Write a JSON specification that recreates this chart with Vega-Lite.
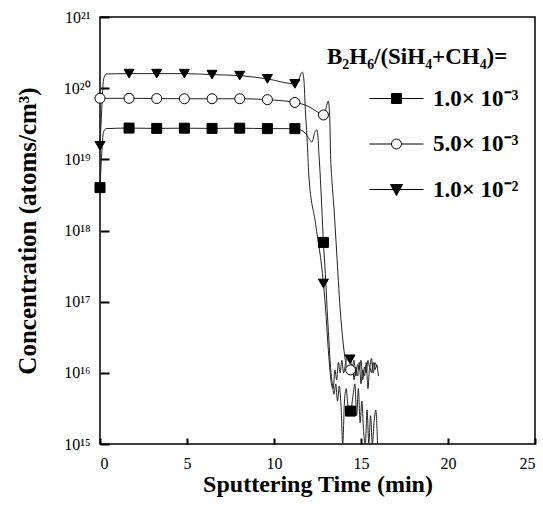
{
  "$schema": "https://vega.github.io/schema/vega-lite/v6.json",
  "width": 435,
  "height": 427,
  "autosize": {"type": "none"},
  "padding": {"left": 100, "top": 17, "right": 8, "bottom": 62},
  "background": "white",
  "config": {
    "view": {"stroke": "black", "strokeWidth": 1.5},
    "font": "Liberation Serif"
  },
  "data": {"values": [
    {"s":"1.0× 10⁻³","t":0,"c":4e18,"m":1},
    {"s":"1.0× 10⁻³","t":0.1,"c":1.2e19,"m":0},
    {"s":"1.0× 10⁻³","t":0.2,"c":2.4e19,"m":0},
    {"s":"1.0× 10⁻³","t":0.35,"c":2.7e19,"m":0},
    {"s":"1.0× 10⁻³","t":1.67,"c":2.75e19,"m":1},
    {"s":"1.0× 10⁻³","t":3.26,"c":2.72e19,"m":1},
    {"s":"1.0× 10⁻³","t":4.85,"c":2.74e19,"m":1},
    {"s":"1.0× 10⁻³","t":6.44,"c":2.72e19,"m":1},
    {"s":"1.0× 10⁻³","t":8.03,"c":2.74e19,"m":1},
    {"s":"1.0× 10⁻³","t":9.62,"c":2.7e19,"m":1},
    {"s":"1.0× 10⁻³","t":11.2,"c":2.7e19,"m":1},
    {"s":"1.0× 10⁻³","t":11.75,"c":2.4e19,"m":0},
    {"s":"1.0× 10⁻³","t":12.05,"c":1.9e19,"m":0},
    {"s":"1.0× 10⁻³","t":12.17,"c":1.75e19,"m":0},
    {"s":"1.0× 10⁻³","t":12.35,"c":2.4e19,"m":0},
    {"s":"1.0× 10⁻³","t":12.45,"c":2.6e19,"m":0},
    {"s":"1.0× 10⁻³","t":12.52,"c":2.2e19,"m":0},
    {"s":"1.0× 10⁻³","t":12.58,"c":1.2e19,"m":0},
    {"s":"1.0× 10⁻³","t":12.64,"c":7e18,"m":0},
    {"s":"1.0× 10⁻³","t":12.75,"c":2e18,"m":0},
    {"s":"1.0× 10⁻³","t":12.84,"c":6.8e17,"m":1},
    {"s":"1.0× 10⁻³","t":12.95,"c":2.5e17,"m":0},
    {"s":"1.0× 10⁻³","t":13.05,"c":8e16,"m":0},
    {"s":"1.0× 10⁻³","t":13.15,"c":3e16,"m":0},
    {"s":"1.0× 10⁻³","t":13.25,"c":1.2e16,"m":0},
    {"s":"1.0× 10⁻³","t":13.35,"c":7e15,"m":0},
    {"s":"1.0× 10⁻³","t":13.45,"c":5e15,"m":0},
    {"s":"1.0× 10⁻³","t":13.55,"c":7e15,"m":0},
    {"s":"1.0× 10⁻³","t":13.65,"c":4e15,"m":0},
    {"s":"1.0× 10⁻³","t":13.75,"c":6.5e15,"m":0},
    {"s":"1.0× 10⁻³","t":13.85,"c":3.5e15,"m":0},
    {"s":"1.0× 10⁻³","t":13.95,"c":5e14,"m":0},
    {"s":"1.0× 10⁻³","t":14.05,"c":4e15,"m":0},
    {"s":"1.0× 10⁻³","t":14.15,"c":6e15,"m":0},
    {"s":"1.0× 10⁻³","t":14.25,"c":3.5e15,"m":0},
    {"s":"1.0× 10⁻³","t":14.4,"c":2.9e15,"m":1},
    {"s":"1.0× 10⁻³","t":14.55,"c":5e15,"m":0},
    {"s":"1.0× 10⁻³","t":14.65,"c":7e15,"m":0},
    {"s":"1.0× 10⁻³","t":14.75,"c":2.5e15,"m":0},
    {"s":"1.0× 10⁻³","t":14.85,"c":6e15,"m":0},
    {"s":"1.0× 10⁻³","t":14.95,"c":2e15,"m":0},
    {"s":"1.0× 10⁻³","t":15.05,"c":4e15,"m":0},
    {"s":"1.0× 10⁻³","t":15.15,"c":1.5e15,"m":0},
    {"s":"1.0× 10⁻³","t":15.25,"c":5e14,"m":0},
    {"s":"1.0× 10⁻³","t":15.35,"c":3e15,"m":0},
    {"s":"1.0× 10⁻³","t":15.45,"c":6e14,"m":0},
    {"s":"1.0× 10⁻³","t":15.55,"c":2.5e15,"m":0},
    {"s":"1.0× 10⁻³","t":15.65,"c":5e14,"m":0},
    {"s":"1.0× 10⁻³","t":15.75,"c":2e15,"m":0},
    {"s":"1.0× 10⁻³","t":15.85,"c":3e15,"m":0},
    {"s":"1.0× 10⁻³","t":15.95,"c":7e14,"m":0},

    {"s":"5.0× 10⁻³","t":0,"c":7.2e19,"m":1},
    {"s":"5.0× 10⁻³","t":1.67,"c":7.2e19,"m":1},
    {"s":"5.0× 10⁻³","t":3.26,"c":7.15e19,"m":1},
    {"s":"5.0× 10⁻³","t":4.85,"c":7.1e19,"m":1},
    {"s":"5.0× 10⁻³","t":6.44,"c":7.1e19,"m":1},
    {"s":"5.0× 10⁻³","t":8.03,"c":7.1e19,"m":1},
    {"s":"5.0× 10⁻³","t":9.62,"c":6.9e19,"m":1},
    {"s":"5.0× 10⁻³","t":11.2,"c":6.3e19,"m":1},
    {"s":"5.0× 10⁻³","t":11.6,"c":6e19,"m":0},
    {"s":"5.0× 10⁻³","t":12.0,"c":5.5e19,"m":0},
    {"s":"5.0× 10⁻³","t":12.4,"c":4.8e19,"m":0},
    {"s":"5.0× 10⁻³","t":12.7,"c":4.3e19,"m":0},
    {"s":"5.0× 10⁻³","t":12.84,"c":4.2e19,"m":1},
    {"s":"5.0× 10⁻³","t":12.95,"c":4.8e19,"m":0},
    {"s":"5.0× 10⁻³","t":13.05,"c":6e19,"m":0},
    {"s":"5.0× 10⁻³","t":13.12,"c":6.6e19,"m":0},
    {"s":"5.0× 10⁻³","t":13.2,"c":4e19,"m":0},
    {"s":"5.0× 10⁻³","t":13.26,"c":1e19,"m":0},
    {"s":"5.0× 10⁻³","t":13.33,"c":5e18,"m":0},
    {"s":"5.0× 10⁻³","t":13.45,"c":2e18,"m":0},
    {"s":"5.0× 10⁻³","t":13.6,"c":5e17,"m":0},
    {"s":"5.0× 10⁻³","t":13.8,"c":8e16,"m":0},
    {"s":"5.0× 10⁻³","t":13.95,"c":3e16,"m":0},
    {"s":"5.0× 10⁻³","t":14.1,"c":1.5e16,"m":0},
    {"s":"5.0× 10⁻³","t":14.25,"c":1.1e16,"m":0},
    {"s":"5.0× 10⁻³","t":14.4,"c":1.1e16,"m":1},
    {"s":"5.0× 10⁻³","t":14.5,"c":1.3e16,"m":0},
    {"s":"5.0× 10⁻³","t":14.6,"c":8e15,"m":0},
    {"s":"5.0× 10⁻³","t":14.7,"c":1.2e16,"m":0},
    {"s":"5.0× 10⁻³","t":14.8,"c":9e15,"m":0},
    {"s":"5.0× 10⁻³","t":14.9,"c":1.4e16,"m":0},
    {"s":"5.0× 10⁻³","t":15.0,"c":7e15,"m":0},
    {"s":"5.0× 10⁻³","t":15.1,"c":1.1e16,"m":0},
    {"s":"5.0× 10⁻³","t":15.2,"c":9e15,"m":0},
    {"s":"5.0× 10⁻³","t":15.3,"c":1.4e16,"m":0},
    {"s":"5.0× 10⁻³","t":15.4,"c":6e15,"m":0},
    {"s":"5.0× 10⁻³","t":15.5,"c":1.2e16,"m":0},
    {"s":"5.0× 10⁻³","t":15.6,"c":1.0e16,"m":0},
    {"s":"5.0× 10⁻³","t":15.7,"c":1.4e16,"m":0},
    {"s":"5.0× 10⁻³","t":15.8,"c":1.1e16,"m":0},
    {"s":"5.0× 10⁻³","t":15.9,"c":1.3e16,"m":0},
    {"s":"5.0× 10⁻³","t":16.0,"c":9e15,"m":0},

    {"s":"1.0× 10⁻²","t":0,"c":1.55e19,"m":1},
    {"s":"1.0× 10⁻²","t":0.1,"c":5e19,"m":0},
    {"s":"1.0× 10⁻²","t":0.2,"c":1.3e20,"m":0},
    {"s":"1.0× 10⁻²","t":0.35,"c":1.58e20,"m":0},
    {"s":"1.0× 10⁻²","t":1.67,"c":1.6e20,"m":1},
    {"s":"1.0× 10⁻²","t":3.26,"c":1.6e20,"m":1},
    {"s":"1.0× 10⁻²","t":4.85,"c":1.6e20,"m":1},
    {"s":"1.0× 10⁻²","t":6.44,"c":1.55e20,"m":1},
    {"s":"1.0× 10⁻²","t":8.03,"c":1.5e20,"m":1},
    {"s":"1.0× 10⁻²","t":9.62,"c":1.35e20,"m":1},
    {"s":"1.0× 10⁻²","t":11.2,"c":1.15e20,"m":1},
    {"s":"1.0× 10⁻²","t":11.4,"c":1.25e20,"m":0},
    {"s":"1.0× 10⁻²","t":11.55,"c":1.6e20,"m":0},
    {"s":"1.0× 10⁻²","t":11.63,"c":1.68e20,"m":0},
    {"s":"1.0× 10⁻²","t":11.72,"c":1.3e20,"m":0},
    {"s":"1.0× 10⁻²","t":11.8,"c":5e19,"m":0},
    {"s":"1.0× 10⁻²","t":11.9,"c":2e19,"m":0},
    {"s":"1.0× 10⁻²","t":12.0,"c":6e18,"m":0},
    {"s":"1.0× 10⁻²","t":12.4,"c":1.2e18,"m":0},
    {"s":"1.0× 10⁻²","t":12.84,"c":1.8e17,"m":1},
    {"s":"1.0× 10⁻²","t":13.0,"c":6e16,"m":0},
    {"s":"1.0× 10⁻²","t":13.1,"c":2.5e16,"m":0},
    {"s":"1.0× 10⁻²","t":13.2,"c":1.2e16,"m":0},
    {"s":"1.0× 10⁻²","t":13.3,"c":7e15,"m":0},
    {"s":"1.0× 10⁻²","t":13.4,"c":6e15,"m":0},
    {"s":"1.0× 10⁻²","t":13.5,"c":1.1e16,"m":0},
    {"s":"1.0× 10⁻²","t":13.6,"c":8e15,"m":0},
    {"s":"1.0× 10⁻²","t":13.7,"c":1.4e16,"m":0},
    {"s":"1.0× 10⁻²","t":13.8,"c":1.0e16,"m":0},
    {"s":"1.0× 10⁻²","t":13.9,"c":1.5e16,"m":0},
    {"s":"1.0× 10⁻²","t":14.0,"c":1.0e16,"m":0},
    {"s":"1.0× 10⁻²","t":14.1,"c":1.3e16,"m":0},
    {"s":"1.0× 10⁻²","t":14.2,"c":1.6e16,"m":0},
    {"s":"1.0× 10⁻²","t":14.37,"c":1.55e16,"m":1},
    {"s":"1.0× 10⁻²","t":14.5,"c":1.2e16,"m":0},
    {"s":"1.0× 10⁻²","t":14.6,"c":1.5e16,"m":0},
    {"s":"1.0× 10⁻²","t":14.7,"c":9e15,"m":0},
    {"s":"1.0× 10⁻²","t":14.8,"c":1.3e16,"m":0},
    {"s":"1.0× 10⁻²","t":14.9,"c":1.1e16,"m":0},
    {"s":"1.0× 10⁻²","t":15.0,"c":1.5e16,"m":0},
    {"s":"1.0× 10⁻²","t":15.1,"c":8e15,"m":0},
    {"s":"1.0× 10⁻²","t":15.2,"c":1.2e16,"m":0},
    {"s":"1.0× 10⁻²","t":15.3,"c":1.0e16,"m":0},
    {"s":"1.0× 10⁻²","t":15.4,"c":1.5e16,"m":0},
    {"s":"1.0× 10⁻²","t":15.5,"c":1.2e16,"m":0},
    {"s":"1.0× 10⁻²","t":15.6,"c":1.6e16,"m":0},
    {"s":"1.0× 10⁻²","t":15.7,"c":1.0e16,"m":0},
    {"s":"1.0× 10⁻²","t":15.8,"c":1.4e16,"m":0},
    {"s":"1.0× 10⁻²","t":15.9,"c":1.2e16,"m":0}
  ]},
  "encoding": {
    "x": {
      "field": "t", "type": "quantitative",
      "scale": {"domain": [0, 25], "nice": false, "zero": false},
      "axis": {
        "orient": "bottom", "offset": -6,
        "title": "Sputtering Time (min)",
        "titleFont": "Liberation Serif", "titleFontSize": 24, "titleFontWeight": "bold", "titleColor": "black", "titlePadding": 1,
        "values": [0,5,10,15,20,25],
        "labelFont": "Liberation Serif", "labelFontSize": 16, "labelColor": "black", "labelPadding": 11,
        "ticks": true, "tickSize": 6, "tickColor": "black", "tickWidth": 2,
        "domain": false, "grid": false
      }
    },
    "y": {
      "field": "c", "type": "quantitative",
      "scale": {"type": "log", "domain": [1e15, 1e21], "nice": false, "clamp": true},
      "axis": {
        "orient": "left", "offset": -9,
        "title": "Concentration (atoms/cm³)",
        "titleFont": "Liberation Serif", "titleFontSize": 25, "titleFontWeight": "bold", "titleColor": "black", "titlePadding": 23,
        "values": [1e15,1e16,1e17,1e18,1e19,1e20,1e21],
        "labelExpr": "'10' + ['¹⁵','¹⁶','¹⁷','¹⁸','¹⁹','²⁰','²¹'][round(log(datum.value)/LN10)-15]",
        "labelFont": "Liberation Serif", "labelFontSize": 16, "labelColor": "black", "labelPadding": 10,
        "ticks": true, "tickSize": 9, "tickColor": "black", "tickWidth": 2,
        "domain": false, "grid": false
      }
    }
  },
  "layer": [
    {
      "mark": {"type": "line", "interpolate": "monotone", "stroke": "#222", "strokeWidth": 1},
      "encoding": {"detail": {"field": "s"}}
    },
    {
      "transform": [{"filter": "datum.m == 1"}],
      "mark": {"type": "point", "filled": true, "stroke": "black", "strokeWidth": 1, "opacity": 1},
      "encoding": {
        "shape": {"field": "s", "type": "nominal", "legend": null,
          "scale": {"domain": ["1.0× 10⁻³","5.0× 10⁻³","1.0× 10⁻²"], "range": ["square","circle","triangle-down"]}},
        "fill": {"field": "s", "type": "nominal", "legend": null,
          "scale": {"domain": ["1.0× 10⁻³","5.0× 10⁻³","1.0× 10⁻²"], "range": ["black","white","black"]}},
        "size": {"field": "s", "type": "nominal", "legend": null,
          "scale": {"domain": ["1.0× 10⁻³","5.0× 10⁻³","1.0× 10⁻²"], "range": [100, 100, 150]}}
      }
    },
    {
      "transform": [{"filter": "false"}],
      "mark": {"type": "point", "filled": true, "strokeWidth": 1, "opacity": 1},
      "encoding": {
        "shape": {"field": "s", "type": "nominal",
          "scale": {"domain": ["1.0× 10⁻³","5.0× 10⁻³","1.0× 10⁻²"],
            "range": ["M1.8,0H5.4M3.267,-0.333H3.933V0.333H3.267Z",
                      "M1.8,0H3.267M3.933,0H5.4M3.267,0A0.333,0.333,0,1,0,3.933,0A0.333,0.333,0,1,0,3.267,0Z",
                      "M1.8,0H5.4M3.2,-0.333H4.0L3.6,0.4Z"]},
          "legend": {
            "title": "B₂H₆/(SiH₄+CH₄)=",
            "orient": "none", "legendX": 227, "legendY": 29, "padding": 0,
            "titleFont": "Liberation Serif", "titleFontSize": 23, "titleFontWeight": "bold", "titleColor": "black", "titlePadding": 14, "titleLimit": 400,
            "labelFont": "Liberation Serif", "labelFontSize": 23, "labelFontWeight": "bold", "labelColor": "black", "labelOffset": 75, "labelLimit": 300,
            "symbolSize": 900, "symbolStrokeWidth": 1, "symbolOpacity": 1,
            "rowPadding": 17.5
          }
        },
        "fill": {"field": "s", "type": "nominal",
          "scale": {"domain": ["1.0× 10⁻³","5.0× 10⁻³","1.0× 10⁻²"], "range": ["black","white","black"]}},
        "stroke": {"field": "s", "type": "nominal",
          "scale": {"domain": ["1.0× 10⁻³","5.0× 10⁻³","1.0× 10⁻²"], "range": ["black","black","black"]}}
      }
    }
  ],
  "resolve": {"scale": {"shape": "independent", "fill": "independent", "stroke": "independent"}}
}
